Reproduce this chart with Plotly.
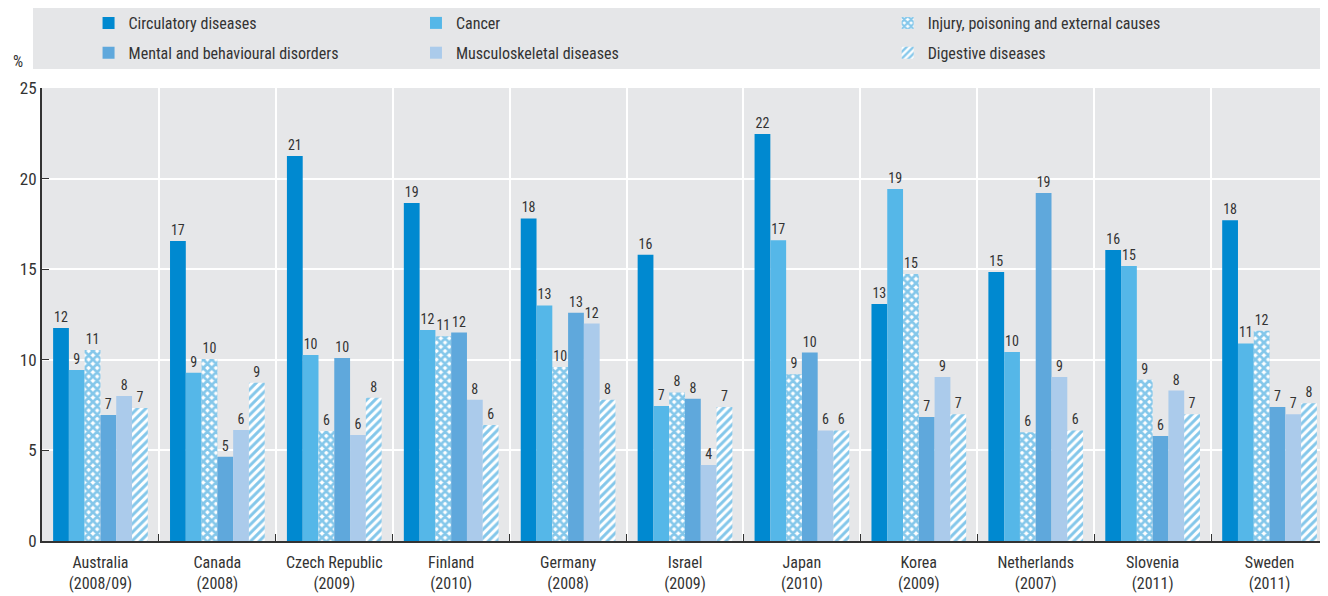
import plotly.graph_objects as go

countries = ["Australia<br>(2008/09)", "Canada<br>(2008)", "Czech Republic<br>(2009)", "Finland<br>(2010)",
             "Germany<br>(2008)", "Israel<br>(2009)", "Japan<br>(2010)", "Korea<br>(2009)",
             "Netherlands<br>(2007)", "Slovenia<br>(2011)", "Sweden<br>(2011)"]

circulatory = [11.75, 16.56, 21.25, 18.65, 17.8, 15.8, 22.46, 13.08, 14.85, 16.06, 17.7]
cancer = [9.44, 9.29, 10.27, 11.65, 13.0, 7.45, 16.6, 19.43, 10.43, 15.18, 10.9]
injury = [10.54, 10.04, 6.07, 11.3, 9.6, 8.2, 9.2, 14.73, 6.0, 8.9, 11.6]
mental = [6.95, 4.65, 10.1, 11.5, 12.6, 7.85, 10.4, 6.85, 19.2, 5.8, 7.4]
musculo = [8.0, 6.13, 5.85, 7.8, 12.0, 4.2, 6.1, 9.05, 9.05, 8.3, 7.0]
digestive = [7.34, 8.74, 7.9, 6.4, 7.8, 7.4, 6.1, 7.0, 6.1, 7.0, 7.6]

FONT = "Roboto Condensed, Liberation Sans Narrow, Roboto, sans-serif"
TXT = "#333333"
BLUE = "#0a8fd6"

series = [
    ("Circulatory diseases", circulatory, dict(color="#0089d0"), "legend"),
    ("Cancer", cancer, dict(color="#55b7e8"), "legend2"),
    ("Injury, poisoning and external causes", injury,
     dict(color="white", pattern=dict(shape="x", fgcolor=BLUE, bgcolor="white", size=6, solidity=0.7)), "legend3"),
    ("Mental and behavioural disorders", mental, dict(color="#5fa8dc"), "legend"),
    ("Musculoskeletal diseases", musculo, dict(color="#abcbeb"), "legend2"),
    ("Digestive diseases", digestive,
     dict(color="white", pattern=dict(shape="/", fgcolor=BLUE, bgcolor="white", size=6, solidity=0.5)), "legend3"),
]

fig = go.Figure()
for i, (name, vals, marker, lg) in enumerate(series):
    fig.add_trace(go.Bar(
        x=countries, y=vals, name=name, marker=dict(line=dict(width=0), **marker),
        texttemplate="%{y:.0f}", textposition="outside", cliponaxis=False,
        textfont=dict(family=FONT, size=14, color=TXT), legend=lg, legendgroup=f"g{i}",
    ))

legend_common = dict(
    orientation="v", yanchor="top", xanchor="left", bgcolor="rgba(0,0,0,0)",
    font=dict(family=FONT, size=16, color=TXT), tracegroupgap=6, itemwidth=30,
)

LY = 1 + (88 - 6) / 453

# page body has an 8px margin: figure origin sits at (8, 8)
fig.update_layout(
    width=1320, height=588,
    margin=dict(l=34, r=0, t=80, b=55, autoexpand=False),
    paper_bgcolor="white", plot_bgcolor="#e6e7e9",
    barmode="group", bargap=0.19, bargroupgap=0,
    font=dict(family=FONT, size=16, color=TXT),
    legend=dict(x=0.0362, y=LY, **legend_common),
    legend2=dict(x=0.2908, y=LY, **legend_common),
    legend3=dict(x=0.6576, y=LY, **legend_common),
    xaxis=dict(
        type="category", tickson="boundaries", showgrid=True, gridcolor="white", gridwidth=2,
        ticks="inside", ticklen=7, tickcolor="#333", showline=True, linecolor="#333", linewidth=2,
        tickfont=dict(family=FONT, size=16, color=TXT), tickangle=0, automargin=False,
        ticklabelstandoff=6,
    ),
    yaxis=dict(
        range=[0, 25], tickvals=[0, 5, 10, 15, 20, 25], showgrid=True, gridcolor="white", gridwidth=2,
        ticks="inside", ticklen=7, tickcolor="#333", showline=True, linecolor="#333", linewidth=2,
        zeroline=False, tickfont=dict(family=FONT, size=17, color=TXT), automargin=False,
    ),
    shapes=[dict(type="rect", xref="paper", yref="paper", x0=-0.007, x1=1.0,
                 y0=1 + (88 - 69) / 453, y1=1 + (88 - 8) / 453,
                 fillcolor="#e5e6e8", line=dict(width=0), layer="below")],
    annotations=[dict(text="%", xref="paper", yref="paper", x=-0.0187, y=1 + (88 - 62) / 453,
                      showarrow=False, font=dict(family=FONT, size=16, color=TXT),
                      xanchor="center", yanchor="middle")],
)

fig.write_html("out.html")
